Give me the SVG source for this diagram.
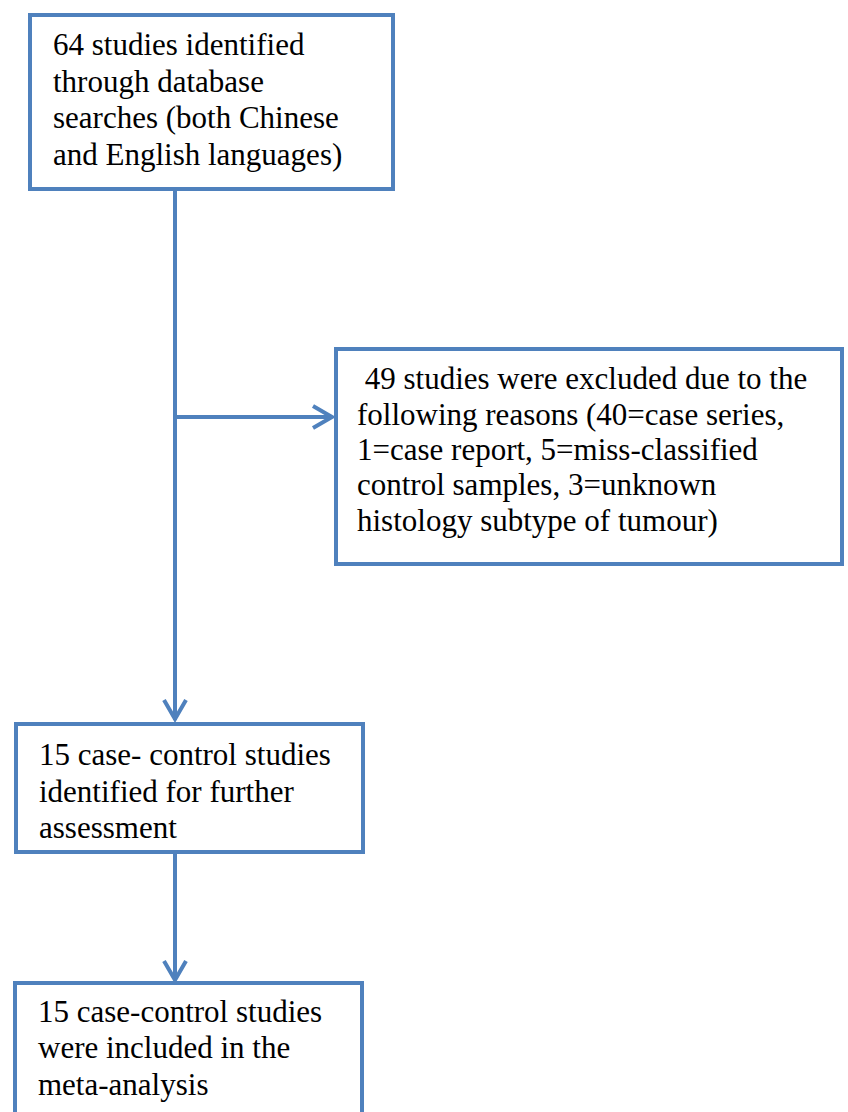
<svg xmlns="http://www.w3.org/2000/svg" width="848" height="1112" viewBox="0 0 848 1112">
<style>
.box{fill:#fff;stroke:#4f81bd;stroke-width:4}
.con{fill:none;stroke:#4f81bd;stroke-width:4}
.head{fill:none;stroke:#4f81bd;stroke-width:4;stroke-linejoin:miter}
.t{font-family:'Liberation Serif','Times New Roman',Tinos,'DejaVu Serif',serif;font-size:31px;fill:#000}
</style>
<rect width="848" height="1112" fill="#fff"/>
<g id="connectors">
<path class="con" d="M175,190 V720"/>
<path class="head" d="M164,700 L175,719 L186,700"/>
<path class="con" d="M175,417 H332"/>
<path class="head" d="M313,406 L332,417 L313,428"/>
<path class="con" d="M175,852 V980"/>
<path class="head" d="M164,961 L175,980 L186,961"/>
</g>
<g id="n1">
<rect class="box" x="30" y="15" width="363" height="174"/>
<text class="t" x="53" y="55">64 studies identified</text>
<text class="t" x="53" y="92">through database</text>
<text class="t" x="53" y="128">searches (both Chinese</text>
<text class="t" x="53" y="165">and English languages)</text>
</g>
<g id="n2">
<rect class="box" x="336" y="349" width="506" height="215"/>
<text class="t" x="357" y="389" xml:space="preserve"> 49 studies were excluded due to the</text>
<text class="t" x="357" y="424.5">following reasons (40=case series,</text>
<text class="t" x="357" y="460">1=case report, 5=miss-classified</text>
<text class="t" x="357" y="495">control samples, 3=unknown</text>
<text class="t" x="357" y="531">histology subtype of tumour)</text>
</g>
<g id="n3">
<rect class="box" x="16" y="724" width="347" height="128"/>
<text class="t" x="39" y="765">15 case- control studies</text>
<text class="t" x="39" y="802">identified for further</text>
<text class="t" x="39" y="838">assessment</text>
</g>
<g id="n4">
<rect class="box" x="15" y="983" width="347" height="140"/>
<text class="t" x="38" y="1022">15 case-control studies</text>
<text class="t" x="38" y="1058">were included in the</text>
<text class="t" x="38" y="1095">meta-analysis</text>
</g>
</svg>
